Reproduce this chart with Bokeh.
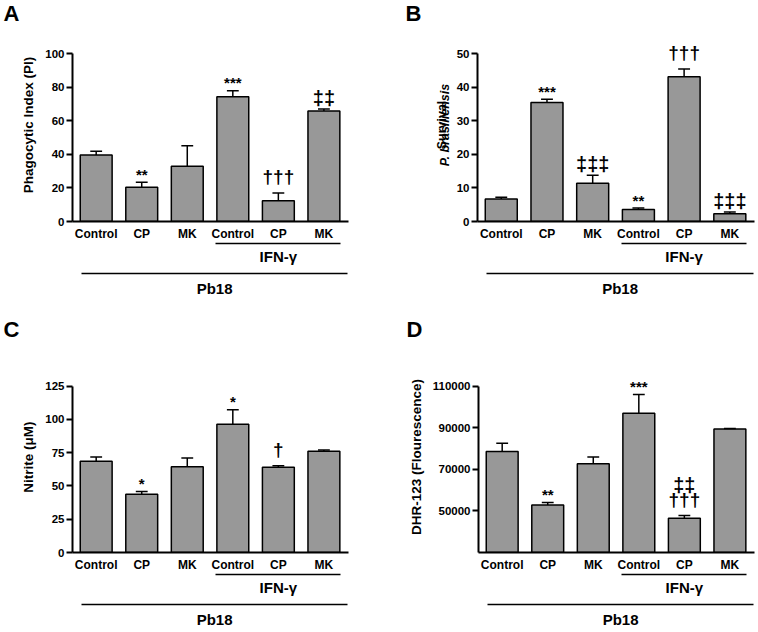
from bokeh.plotting import figure
from bokeh.models import Range1d, FixedTicker, LinearAxis, ColumnDataSource
from bokeh.layouts import row, column
from bokeh.embed import file_html
from bokeh.resources import INLINE
from bokeh.core.properties import value

# ---------------- data ----------------
categories = ["Control", "CP", "MK", "Control", "CP", "MK"]
ifn_label = "IFN-γ"
strain_label = "Pb18"
panel_letters = ["A", "B", "C", "D"]

a_mean = [39.6, 20.4, 32.9, 74.3, 12.3, 65.7]
a_err = [2.2, 3.0, 12.2, 3.5, 4.7, 1.2]
a_marks = ["", "**", "", "***", "†††", "‡‡"]
a_marks2 = ["", "", "", "", "", ""]
a_yticks = [0, 20, 40, 60, 80, 100]
a_ylabels = ["0", "20", "40", "60", "80", "100"]

b_mean = [6.7, 35.4, 11.4, 3.6, 43.1, 2.3]
b_err = [0.5, 1.0, 2.4, 0.4, 2.3, 0.5]
b_marks = ["", "***", "‡‡‡", "**", "†††", "‡‡‡"]
b_marks2 = ["", "", "", "", "", ""]
b_yticks = [0, 10, 20, 30, 40, 50]
b_ylabels = ["0", "10", "20", "30", "40", "50"]
b_ylabel_italic = "P. brasiliensis"
b_ylabel_plain = "Survival"

c_mean = [68.6, 43.8, 64.4, 96.5, 64.1, 76.2]
c_err = [3.2, 2.0, 6.6, 10.9, 1.2, 0.8]
c_marks = ["", "*", "", "*", "†", ""]
c_marks2 = ["", "", "", "", "", ""]
c_yticks = [0, 25, 50, 75, 100, 125]
c_ylabels = ["0", "25", "50", "75", "100", "125"]

d_mean = [78600, 52900, 72700, 97000, 46500, 89400]
d_err = [4000, 1100, 3200, 9000, 1300, 300]
d_marks = ["", "**", "", "***", "†††", ""]
d_marks2 = ["", "", "", "", "‡‡", ""]
d_yticks = [50000, 70000, 90000, 110000]
d_ylabels = ["50000", "70000", "90000", "110000"]

# ---------------- style ----------------
FONT = "Liberation Sans"
X_LIM = (-0.52, 5.54)
BAR_W = 0.7
CAP_HALF = 0.13
IFN_BOUNDS = (2.62, 5.37)
IFN_TICK = 4
PB_BOUNDS = (-0.33, 5.52)
PB_TICK = 2.6
BAR_FILL = "#989898"

MARK_STYLE = {"*": ("15px", -8), "†": ("19px", -16), "‡": ("20px", -11)}
STACK_GAP = -15
HEADROOM = 25  # px of plot area above the axis top, so markers are not clipped

# label spans (in B's y units) along which each part of B's y-axis title is centred
B_ITALIC_SPAN = (6.85, 31.85)
B_PLAIN_SPAN = (33.8, 48.3)
B_LABEL_SIZE = "12.5px"
B_LABEL_H = 14


def style_axis_text(ax, size):
    ax.major_label_text_font = FONT
    ax.major_label_text_font_style = "bold"
    ax.major_label_text_font_size = size
    ax.major_label_text_color = "black"


def bare_figure(width, height, xr, yr):
    f = figure(width=width, height=height, x_range=xr, y_range=yr, title=None,
               output_backend="svg", toolbar_location=None, tools="",
               x_axis_location=None, y_axis_location=None,
               min_border_left=0, min_border_right=0, min_border_top=0, min_border_bottom=0)
    f.xgrid.visible = False
    f.ygrid.visible = False
    f.outline_line_color = None
    return f


def label_axis(text, span, style, standoff):
    return LinearAxis(ticker=FixedTicker(ticks=[]), bounds=span,
                      axis_line_color=None, major_tick_line_color=None,
                      minor_tick_line_color=None, major_tick_out=0, major_tick_in=0,
                      major_label_standoff=0,
                      axis_label=text, axis_label_text_font=FONT,
                      axis_label_text_font_style=style,
                      axis_label_text_font_size=B_LABEL_SIZE,
                      axis_label_text_color="black", axis_label_standoff=standoff)


def make_panel(means, errs, marks, marks2, yrange, yticks, ylabels, ylabel,
               width, left, right, geom):
    axis_h = geom["frame"]
    y_ext = yrange[1] + HEADROOM * (yrange[1] - yrange[0]) / axis_h
    height = geom["top"] + geom["frame"] + geom["bottom"]
    p = figure(width=width, height=height, x_range=Range1d(*X_LIM),
               y_range=Range1d(yrange[0], y_ext),
               output_backend="svg", toolbar_location=None, tools="",
               min_border_left=left, min_border_right=right,
               min_border_top=geom["top"] - HEADROOM, min_border_bottom=geom["bottom"])
    p.xgrid.visible = False
    p.ygrid.visible = False
    p.outline_line_color = None

    xa = p.xaxis[0]
    xa.ticker = FixedTicker(ticks=list(range(len(categories))))
    xa.major_label_overrides = {i: c for i, c in enumerate(categories)}
    xa.major_tick_line_color = None
    xa.major_tick_out = 0
    xa.major_tick_in = 0
    xa.minor_tick_line_color = None
    xa.axis_line_width = 2
    xa.axis_line_color = "black"
    xa.major_label_standoff = 5
    style_axis_text(xa, "12px")

    ya = p.yaxis[0]
    ya.bounds = (yrange[0], yrange[1])
    ya.ticker = FixedTicker(ticks=yticks)
    ya.major_label_overrides = {t: l for t, l in zip(yticks, ylabels)}
    ya.major_tick_out = 6
    ya.major_tick_in = 0
    ya.major_tick_line_width = 2
    ya.minor_tick_line_color = None
    ya.axis_line_width = 2
    ya.major_label_standoff = 2
    style_axis_text(ya, "11.5px")
    if ylabel:
        ya.axis_label = ylabel
        ya.axis_label_text_font = FONT
        ya.axis_label_text_font_style = "bold"
        ya.axis_label_text_font_size = "13.5px"
        ya.axis_label_text_color = "black"
        ya.axis_label_standoff = 6

    caps = [m + e for m, e in zip(means, errs)]
    xs = list(range(len(means)))
    sizes = [MARK_STYLE[m[0]][0] if m else "15px" for m in marks]
    offs = [MARK_STYLE[m[0]][1] if m else 0 for m in marks]
    sizes2 = [MARK_STYLE[m[0]][0] if m else "15px" for m in marks2]
    offs2 = [o + STACK_GAP for o in offs]
    src = ColumnDataSource(dict(x=xs, top=means, cap=caps,
                                xl=[x - CAP_HALF for x in xs], xr=[x + CAP_HALF for x in xs],
                                marks=marks, marks2=marks2, size=sizes, off=offs,
                                size2=sizes2, off2=offs2))
    p.vbar(x="x", top="top", bottom=yrange[0], width=BAR_W, source=src,
           fill_color=BAR_FILL, line_color="black", line_width=1.5)
    p.segment(x0="x", y0="top", x1="x", y1="cap", source=src, line_color="black", line_width=1.5)
    p.segment(x0="xl", y0="cap", x1="xr", y1="cap", source=src, line_color="black", line_width=1.5)
    p.text(x="x", y="cap", text="marks", source=src, text_align="center",
           text_baseline="alphabetic", y_offset="off", text_font=value(FONT),
           text_font_style="bold", text_font_size="size", text_color="black")
    p.text(x="x", y="cap", text="marks2", source=src, text_align="center",
           text_baseline="alphabetic", y_offset="off2", text_font=value(FONT),
           text_font_style="bold", text_font_size="size2", text_color="black")

    ifn_ax = LinearAxis(ticker=FixedTicker(ticks=[IFN_TICK]),
                        major_label_overrides={IFN_TICK: ifn_label},
                        bounds=IFN_BOUNDS, axis_line_width=1.5, axis_line_color="black",
                        major_tick_line_color=None, minor_tick_line_color=None,
                        major_tick_out=0, major_tick_in=0, major_label_standoff=4,
                        axis_label="\u00a0", axis_label_text_font_size="3px",
                        axis_label_standoff=0)
    style_axis_text(ifn_ax, "15px")
    p.add_layout(ifn_ax, "below")

    pb_ax = LinearAxis(ticker=FixedTicker(ticks=[PB_TICK]),
                       major_label_overrides={PB_TICK: strain_label},
                       bounds=PB_BOUNDS, axis_line_width=1.5, axis_line_color="black",
                       major_tick_line_color=None, minor_tick_line_color=None,
                       major_tick_out=0, major_tick_in=0, major_label_standoff=6)
    style_axis_text(pb_ax, "15px")
    p.add_layout(pb_ax, "below")
    return p


COL_W = 378
TOTAL_W = 2 * COL_W
HEAD1_H, HEAD2_H = 28, 30
ROW1 = dict(top=25, frame=168, bottom=94)
ROW2 = dict(top=41, frame=168, bottom=76)


def header(height, letters, xs, y_top):
    h = bare_figure(TOTAL_W, height, Range1d(0, TOTAL_W), Range1d(height, 0))
    h.text(x=xs, y=[y_top] * len(letters), text=letters, text_align="left",
           text_baseline="top", text_font=value(FONT), text_font_style="bold",
           text_font_size="22px", text_color="black")
    return h


head1 = header(HEAD1_H, panel_letters[:2], [3, 405], 0)
head2 = header(HEAD2_H, panel_letters[2:], [3, 406], 1)

pa = make_panel(a_mean, a_err, a_marks, a_marks2, (0, 100), a_yticks, a_ylabels,
                "Phagocytic Index (PI)", COL_W, 72, 30, ROW1)
pb = make_panel(b_mean, b_err, b_marks, b_marks2, (0, 50), b_yticks, b_ylabels,
                "", COL_W, 99, 2, ROW1)
pc = make_panel(c_mean, c_err, c_marks, c_marks2, (0, 125), c_yticks, c_ylabels,
                "Nitrite (μM)", COL_W, 72, 30, ROW2)
pd = make_panel(d_mean, d_err, d_marks, d_marks2, (30000, 110000), d_yticks, d_ylabels,
                "DHR-123 (Flourescence)", COL_W, 100, 2, ROW2)

# mixed-style y-axis title of panel B: two label-only axes sharing one column
pb.add_layout(label_axis(b_ylabel_italic, B_ITALIC_SPAN, "bold italic", 2), "left")
pb.add_layout(label_axis(b_ylabel_plain, B_PLAIN_SPAN, "bold", -B_LABEL_H), "left")

layout = column(head1, row(pa, pb), head2, row(pc, pd))
open("out.html", "w").write(file_html(layout, INLINE))
